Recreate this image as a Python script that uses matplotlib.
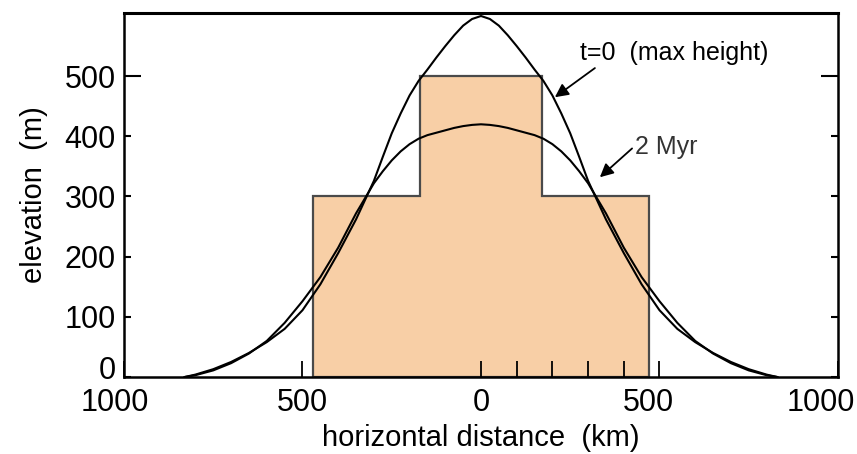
#!/usr/bin/env python3
"""Topographic relaxation profile: initial load blocks and two elevation curves."""
import matplotlib
matplotlib.use("Agg")
import matplotlib.pyplot as plt
from matplotlib.transforms import offset_copy

plt.rcParams["font.family"] = ["Liberation Sans", "DejaVu Sans"]

# load blocks (step profile), km / m
BLOCK_EDGES = [-470, -170, 170, 470]
BLOCK_HEIGHTS = [300, 500, 300]

# curves (symmetric about 0)
HALF_X = [0, 25, 50, 75, 100, 125, 150, 175, 200, 225, 250, 275, 300,
          350, 400, 450, 500, 550, 600, 650, 700, 750, 800, 830]
T0_ELEV = [600, 595, 584, 568, 550, 531, 511, 492, 468, 438, 405, 366, 326,
           262, 206, 154, 111, 80, 58, 40, 25, 13, 4, 0]
MYR2_ELEV = [420, 419, 417, 414, 410, 406, 402, 396, 387, 375, 360, 342, 322,
             272, 215, 166, 126, 90, 60, 39, 23, 11, 3, 0]

X_TICKS = [-1000, -500, 0, 500, 1000]
X_TICK_LABELS = ["1000", "500", "0", "500", "1000"]
X_MINOR = [100, 200, 300, 400]
Y_TICKS = [0, 100, 200, 300, 400, 500]

FILL = "#f8cfa6"


def mirror(xs, ys):
    x = [-v for v in xs[::-1]] + xs[1:]
    y = ys[::-1] + ys[1:]
    return x, y


def main():
    fig = plt.figure(figsize=(8.57, 4.54), dpi=100)
    ax = fig.add_axes([0.1447, 0.1696, 0.8331, 0.8018])

    # step-shaped load
    sx, sy = [BLOCK_EDGES[0]], [0]
    for i, h in enumerate(BLOCK_HEIGHTS):
        sx += [BLOCK_EDGES[i], BLOCK_EDGES[i + 1]]
        sy += [h, h]
    sx.append(BLOCK_EDGES[-1])
    sy.append(0)
    ax.fill(sx, sy, facecolor=FILL, edgecolor="#4a4a4a", linewidth=1.6, zorder=1)

    for elev in (T0_ELEV, MYR2_ELEV):
        x, y = mirror(HALF_X, elev)
        ax.plot(x, y, color="black", linewidth=1.5, zorder=3)

    ax.annotate("t=0  (max height)", xy=(207, 465), xytext=(277, 538),
                fontsize=18, va="center", ha="left",
                arrowprops=dict(arrowstyle="-|>", color="black", lw=1.3,
                                mutation_scale=20, shrinkA=0, shrinkB=0,
                                relpos=(0.1, 0)))
    ax.annotate("2 Myr", xy=(333, 332), xytext=(431, 382),
                fontsize=18, va="center", ha="left", color="#333333",
                arrowprops=dict(arrowstyle="-|>", color="black", lw=1.3,
                                mutation_scale=20, shrinkA=0, shrinkB=0,
                                relpos=(0, 0.55)))

    ax.set_xlim(-1000, 1000)
    ax.set_ylim(0, 605)
    ax.set_xticks(X_TICKS)
    ax.set_xticks(X_MINOR, minor=True)
    ax.set_xticklabels([])
    ax.set_yticks(Y_TICKS)
    ax.set_yticklabels([""] + [str(v) for v in Y_TICKS[1:]])
    ax.tick_params(axis="x", which="both", direction="in", length=11.5, width=1.3)
    ax.tick_params(axis="y", which="major", direction="in", length=5, width=1.5,
                   labelsize=22, right=True, pad=6)
    for t in ax.yaxis.get_major_ticks():
        if t.get_loc() == 500:
            t.tick1line.set_markersize(12)
            t.tick2line.set_markersize(12)

    # x tick labels placed by hand: the reference has them nudged a bit left on the right side
    x_shift = {-1000: -9, -500: 0, 0: 0, 500: -11, 1000: -17}
    xtr = ax.get_xaxis_transform()
    for v, lab in zip(X_TICKS, X_TICK_LABELS):
        tr = offset_copy(xtr, fig=fig, x=x_shift[v], y=-11, units="dots")
        ax.text(v, 0, lab, transform=tr, ha="center", va="top", fontsize=22, clip_on=False)
    # "0" on the y axis sits a little higher than the spine
    ytr = offset_copy(ax.get_yaxis_transform(), fig=fig, x=-8, y=6, units="dots")
    ax.text(0, 0, "0", transform=ytr, ha="right", va="center", fontsize=22, clip_on=False)

    for s in ax.spines.values():
        s.set_linewidth(1.8)
    ax.spines["top"].set_linewidth(2.2)

    ax.set_xlabel("horizontal distance  (km)", fontsize=21, labelpad=30)
    ax.set_ylabel("elevation  (m)", fontsize=21, labelpad=12)

    fig.savefig("out.png", dpi=100)


if __name__ == "__main__":
    main()
